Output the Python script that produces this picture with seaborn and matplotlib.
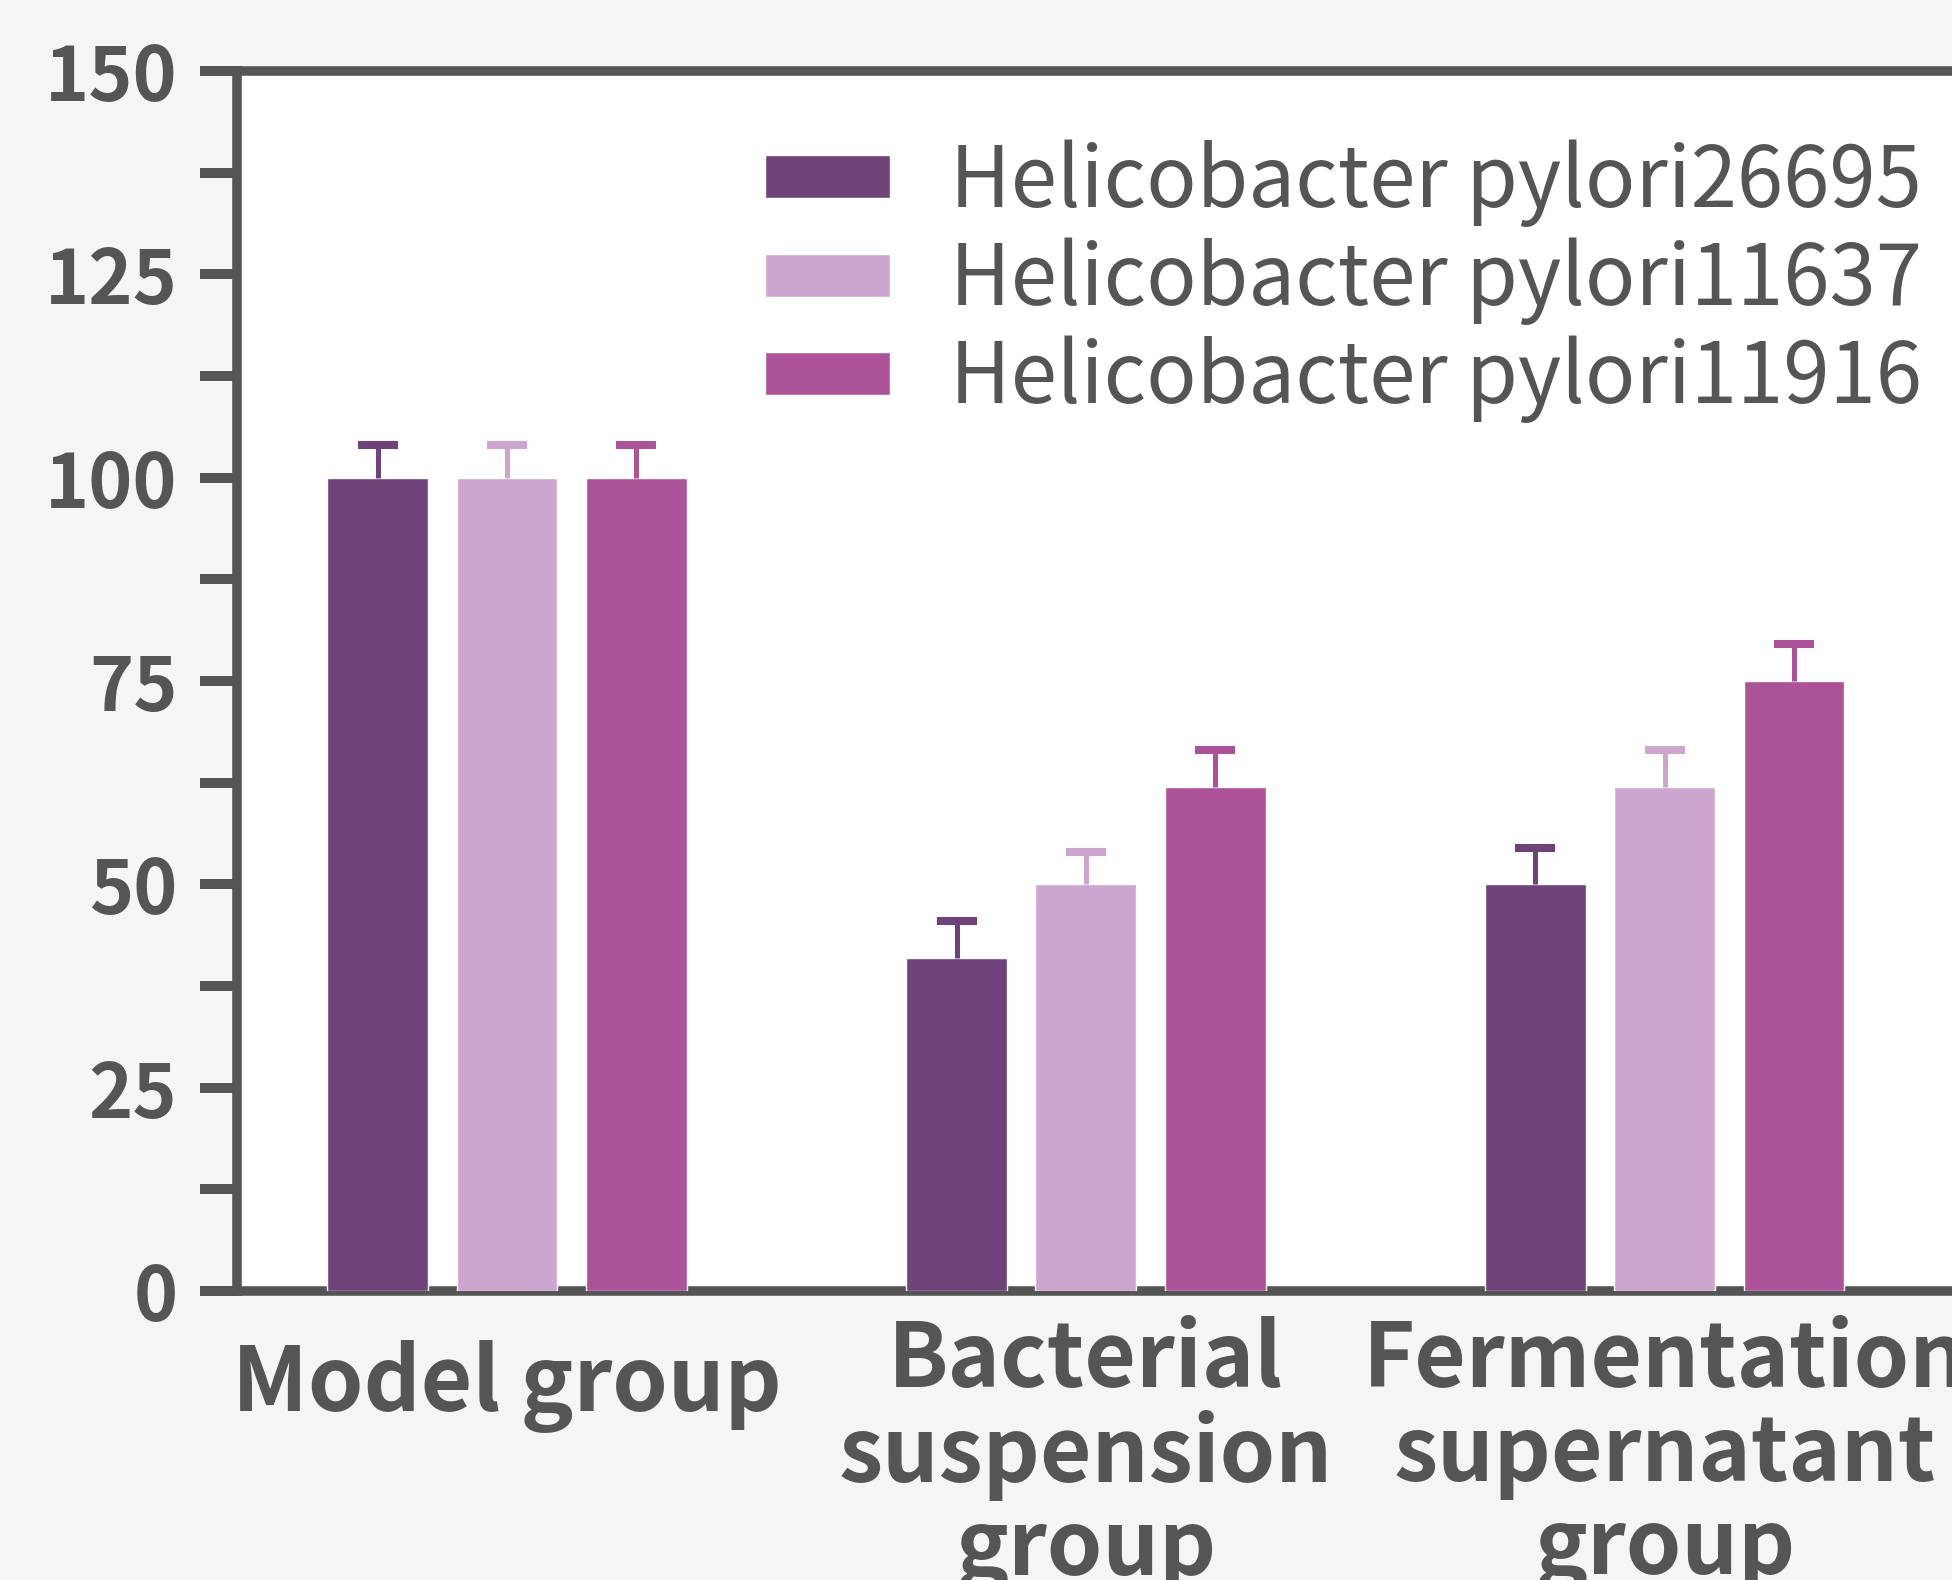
import numpy as np
import pandas as pd
import matplotlib
matplotlib.use("Agg")
import matplotlib.pyplot as plt
import matplotlib.transforms as mtransforms
from matplotlib.ticker import MultipleLocator
import seaborn as sns

# -------- DATA --------
groups = ["Model group", "Bacterial suspension group", "Fermentation supernatant group"]
group_labels = ["Model group", "Bacterial\nsuspension\ngroup", "Fermentation\nsupernatant\ngroup"]
strains = ["Helicobacter pylori26695", "Helicobacter pylori11637", "Helicobacter pylori11916"]
colors = ["#6f437a", "#cda6cf", "#ab5299"]

mean_26695 = [100, 41, 50]
mean_11637 = [100, 50, 62]
mean_11916 = [100, 62, 75]
err_26695 = [4, 4.5, 4.5]
err_11637 = [4, 4, 4.5]
err_11916 = [4, 4.5, 4.5]

means = [mean_26695, mean_11637, mean_11916]
errs = [err_26695, err_11637, err_11916]

rows = []
for s, m in zip(strains, means):
    for g, v in zip(groups, m):
        rows.append({"group": g, "strain": s, "value": v})
df = pd.DataFrame(rows)

# -------- STYLE --------
sns.set_theme(style="white")
plt.rcParams["font.family"] = ["Noto Sans CJK SC", "DejaVu Sans"]
grey = "#555555"

fig = plt.figure(figsize=(19.52, 15.80), dpi=100, facecolor="#f5f5f5")
ax = fig.add_axes([0.1212, 0.1828, 0.9096, 0.7723])
ax.set_facecolor("white")

sns.barplot(data=df, x="group", y="value", hue="strain", order=groups,
            hue_order=strains, palette=colors, width=0.67, gap=0.22,
            errorbar=None, saturation=1, ax=ax, legend=False, zorder=3)

bar_conts = list(ax.containers)

# upper error bars only (stem + cap on top)
for cont, m, e, c in zip(bar_conts, means, errs, colors):
    xs = [p.get_x() + p.get_width() / 2 for p in cont]
    top = np.array(m) + np.array(e)
    ax.errorbar(xs, m, yerr=[np.zeros(len(e)), e], fmt="none", ecolor=c,
                elinewidth=3.6, capsize=0, zorder=3)
    ax.plot(xs, top, ls="none", marker="_", ms=28.8, mew=5.8, color=c, zorder=3)

# -------- AXES --------
ax.set_xlim(-0.467, 2.6)
ax.set_ylim(0, 150)
ax.yaxis.set_major_locator(MultipleLocator(25))
ax.yaxis.set_minor_locator(MultipleLocator(12.5))
ax.tick_params(axis="y", which="both", left=True, length=26.6, width=7.2,
               color=grey, direction="out", pad=16, labelsize=54, labelcolor=grey)
ax.tick_params(axis="x", length=0, pad=18)
for lbl in ax.get_yticklabels():
    lbl.set_fontweight("semibold")

ax.set_xticks(range(len(groups)))
ax.set_xticklabels(group_labels, fontsize=64, fontweight="semibold", color=grey,
                   linespacing=1.05, va="top")
offset = mtransforms.ScaledTranslation(0, -0.24, fig.dpi_scale_trans)
first = ax.get_xticklabels()[0]
first.set_transform(first.get_transform() + offset)

ax.set_xlabel("")
ax.set_ylabel("")
for sp in ax.spines.values():
    sp.set_visible(True)
    sp.set_linewidth(6.9)
    sp.set_color(grey)

# -------- LEGEND --------
ax.legend(bar_conts, strains, loc="upper left", bbox_to_anchor=(0.392, 0.912),
          bbox_transform=fig.transFigure, frameon=False, fontsize=60,
          labelcolor=grey, handlelength=1.5, handleheight=0.42,
          handletextpad=0.72, labelspacing=0.13, borderpad=0, borderaxespad=0)

fig.savefig("out.png", dpi=100, facecolor=fig.get_facecolor())
